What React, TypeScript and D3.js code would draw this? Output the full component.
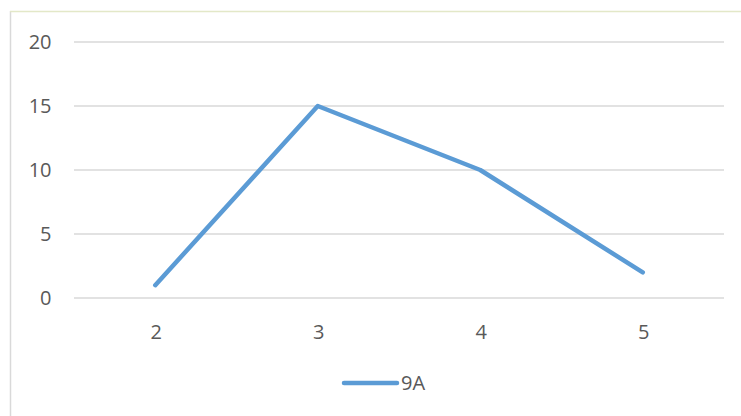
import React from "react";
import * as d3 from "d3";

const categories = ["2", "3", "4", "5"];
const values = [1, 15, 10, 2];
const yTicks = [0, 5, 10, 15, 20];
const seriesName = "9A";

export default function App() {
  const W = 741, H = 416;
  const left = 74, right = 724, top = 42, bottom = 298;
  const x = d3.scaleBand<string>().domain(categories).range([left, right]);
  const y = d3.scaleLinear().domain([0, 20]).range([bottom, top]);
  const line = d3.line<number>()
    .x((_, i) => (x(categories[i]) as number) + x.bandwidth() / 2)
    .y((d) => y(d));
  const font = "'Open Sans', 'Liberation Sans', sans-serif";
  const fs = 20;
  return (
    <svg width={W} height={H} style={{ position: "absolute", left: 0, top: 0 }}>
      <rect x={0} y={0} width={W} height={H} fill="#fff" />
      <line x1={10.5} y1={11} x2={10.5} y2={H} stroke="#d9d9d9" strokeWidth={1.5} />
      <line x1={10} y1={11.5} x2={W} y2={11.5} stroke="#e3e8c8" strokeWidth={1.5} />
      {yTicks.map((t) => (
        <g key={t}>
          <line x1={left} x2={right} y1={y(t)} y2={y(t)} stroke="#d9d9d9" strokeWidth={1.3} />
          <text x={51.5} y={y(t) + 7} textAnchor="end" fontFamily={font} fontSize={fs} fill="#595959">{t}</text>
        </g>
      ))}
      {categories.map((c) => (
        <text key={c} x={(x(c) as number) + x.bandwidth() / 2 + 1} y={339} textAnchor="middle" fontFamily={font} fontSize={fs} fill="#595959">{c}</text>
      ))}
      <path d={line(values) || ""} fill="none" stroke="#5b9bd5" strokeWidth={4.5} strokeLinecap="round" strokeLinejoin="round" />
      <line x1={344} x2={397} y1={383} y2={383} stroke="#5b9bd5" strokeWidth={4.5} strokeLinecap="round" />
      <text x={401} y={390} fontFamily={font} fontSize={fs} fill="#595959">{seriesName}</text>
    </svg>
  );
}
